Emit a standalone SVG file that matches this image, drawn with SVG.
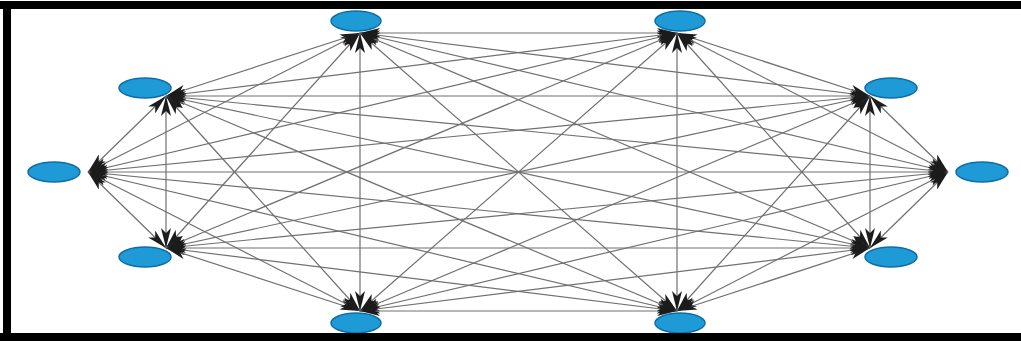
<svg xmlns="http://www.w3.org/2000/svg" width="1021" height="341" viewBox="0 0 1021 341">
<defs>
<style>
.e{stroke:#707070;stroke-width:1.2;fill:none;marker-start:url(#ah);marker-end:url(#ah)}
.n{fill:#1e9ad6;stroke:#0d6ea3;stroke-width:1.5}
.b{fill:#000}
</style>
<marker id="ah" markerUnits="userSpaceOnUse" markerWidth="20" markerHeight="10" refX="20" refY="5" orient="auto-start-reverse" viewBox="0 0 20 10">
<path d="M0,0 L20,5 L0,10 L5,5 z" fill="#1c1c1c"/>
</marker>
</defs>
<rect width="1021" height="341" fill="#fff"/>
<g id="connectors">
<line class="e" x1="360" y1="33" x2="677" y2="33"/>
<line class="e" x1="360" y1="33" x2="870" y2="96"/>
<line class="e" x1="360" y1="33" x2="948" y2="172"/>
<line class="e" x1="360" y1="33" x2="870" y2="248"/>
<line class="e" x1="360" y1="33" x2="677" y2="311"/>
<line class="e" x1="360" y1="33" x2="360" y2="311"/>
<line class="e" x1="360" y1="33" x2="166" y2="248"/>
<line class="e" x1="360" y1="33" x2="88" y2="172"/>
<line class="e" x1="360" y1="33" x2="166" y2="96"/>
<line class="e" x1="677" y1="33" x2="870" y2="96"/>
<line class="e" x1="677" y1="33" x2="948" y2="172"/>
<line class="e" x1="677" y1="33" x2="870" y2="248"/>
<line class="e" x1="677" y1="33" x2="677" y2="311"/>
<line class="e" x1="677" y1="33" x2="360" y2="311"/>
<line class="e" x1="677" y1="33" x2="166" y2="248"/>
<line class="e" x1="677" y1="33" x2="88" y2="172"/>
<line class="e" x1="677" y1="33" x2="166" y2="96"/>
<line class="e" x1="870" y1="96" x2="948" y2="172"/>
<line class="e" x1="870" y1="96" x2="870" y2="248"/>
<line class="e" x1="870" y1="96" x2="677" y2="311"/>
<line class="e" x1="870" y1="96" x2="360" y2="311"/>
<line class="e" x1="870" y1="96" x2="166" y2="248"/>
<line class="e" x1="870" y1="96" x2="88" y2="172"/>
<line class="e" x1="870" y1="96" x2="166" y2="96"/>
<line class="e" x1="948" y1="172" x2="870" y2="248"/>
<line class="e" x1="948" y1="172" x2="677" y2="311"/>
<line class="e" x1="948" y1="172" x2="360" y2="311"/>
<line class="e" x1="948" y1="172" x2="166" y2="248"/>
<line class="e" x1="948" y1="172" x2="88" y2="172"/>
<line class="e" x1="948" y1="172" x2="166" y2="96"/>
<line class="e" x1="870" y1="248" x2="677" y2="311"/>
<line class="e" x1="870" y1="248" x2="360" y2="311"/>
<line class="e" x1="870" y1="248" x2="166" y2="248"/>
<line class="e" x1="870" y1="248" x2="88" y2="172"/>
<line class="e" x1="870" y1="248" x2="166" y2="96"/>
<line class="e" x1="677" y1="311" x2="360" y2="311"/>
<line class="e" x1="677" y1="311" x2="166" y2="248"/>
<line class="e" x1="677" y1="311" x2="88" y2="172"/>
<line class="e" x1="677" y1="311" x2="166" y2="96"/>
<line class="e" x1="360" y1="311" x2="166" y2="248"/>
<line class="e" x1="360" y1="311" x2="88" y2="172"/>
<line class="e" x1="360" y1="311" x2="166" y2="96"/>
<line class="e" x1="166" y1="248" x2="88" y2="172"/>
<line class="e" x1="166" y1="248" x2="166" y2="96"/>
<line class="e" x1="88" y1="172" x2="166" y2="96"/>
</g>
<g id="n1"><ellipse class="n" cx="356" cy="21" rx="25" ry="10"/></g>
<g id="n2"><ellipse class="n" cx="680" cy="21" rx="25" ry="10"/></g>
<g id="n3"><ellipse class="n" cx="891" cy="88" rx="26" ry="10"/></g>
<g id="n4"><ellipse class="n" cx="982" cy="172" rx="26" ry="10"/></g>
<g id="n5"><ellipse class="n" cx="891" cy="257" rx="26" ry="10"/></g>
<g id="n6"><ellipse class="n" cx="680" cy="323" rx="25" ry="10"/></g>
<g id="n7"><ellipse class="n" cx="356" cy="323" rx="25" ry="10"/></g>
<g id="n8"><ellipse class="n" cx="145" cy="257" rx="26" ry="10"/></g>
<g id="n9"><ellipse class="n" cx="54" cy="172" rx="26" ry="10"/></g>
<g id="n10"><ellipse class="n" cx="145" cy="88" rx="26" ry="10"/></g>
<g id="frame">
<rect class="b" x="0" y="1" width="1021" height="8"/>
<rect class="b" x="3" y="1" width="8" height="340"/>
<rect class="b" x="0" y="333" width="1021" height="8"/>
</g>
</svg>
